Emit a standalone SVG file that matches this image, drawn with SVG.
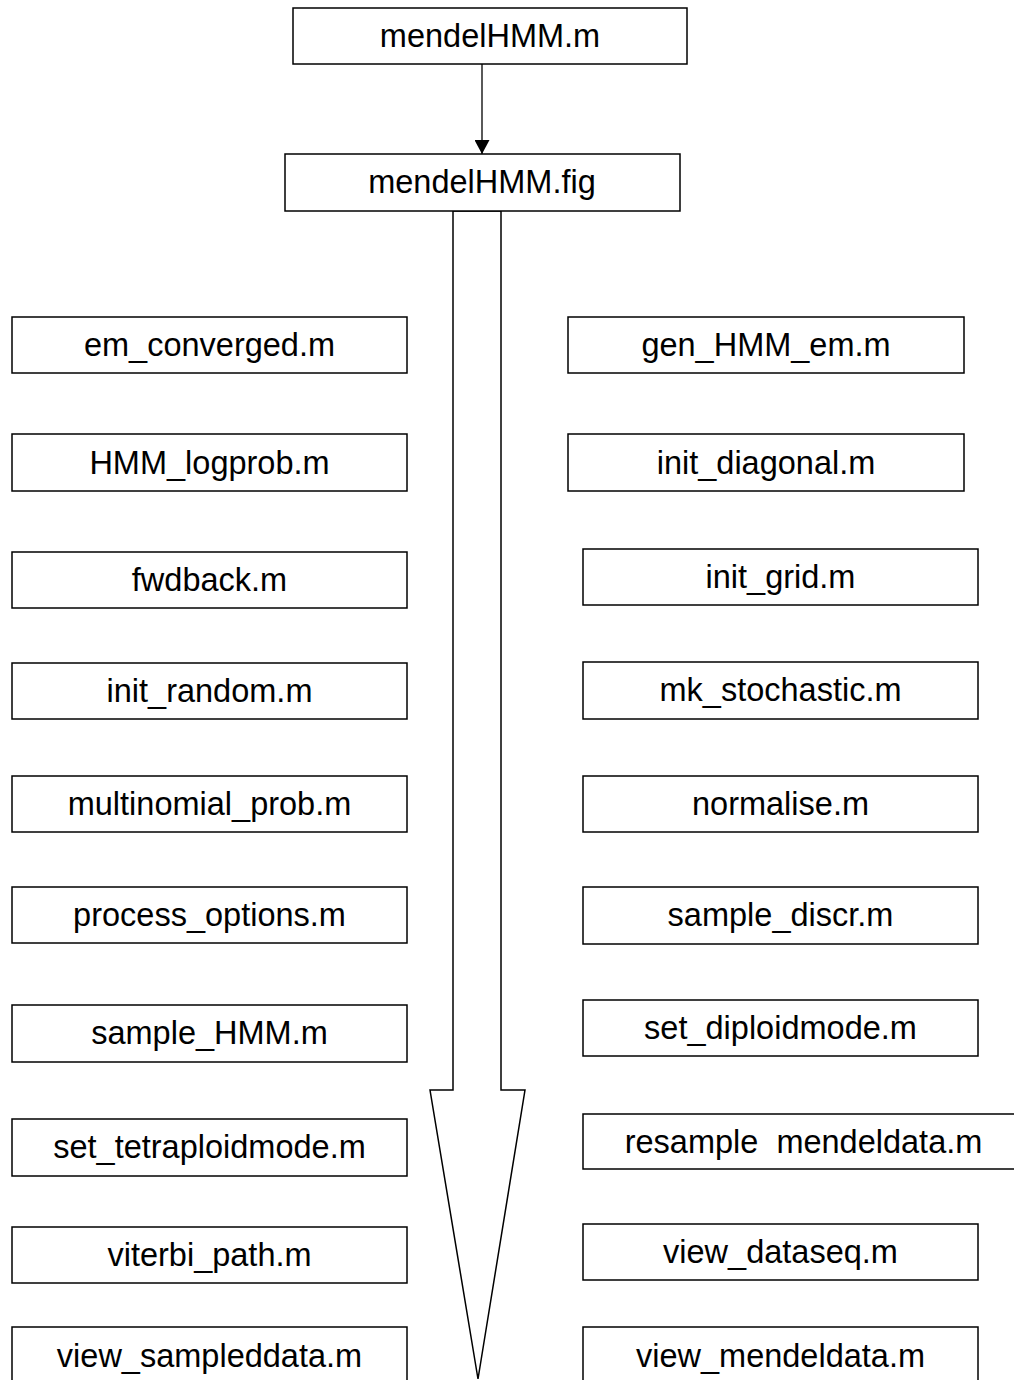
<svg xmlns="http://www.w3.org/2000/svg" width="1014" height="1380" viewBox="0 0 1014 1380">
<style>
rect.n{fill:#fff;stroke:#000;stroke-width:1.5}
text{font-family:"Liberation Sans",Arial,sans-serif;font-size:32.5px;fill:#000;text-anchor:middle;white-space:pre}
.c{fill:none;stroke:#000;stroke-width:1.5}
</style>
<defs>
<marker id="ah" viewBox="0 0 14 15" refX="14" refY="7.5" markerWidth="14" markerHeight="15" markerUnits="userSpaceOnUse" orient="auto">
<path d="M0,0 L14,7.5 L0,15 z" fill="#000"/>
</marker>
</defs>
<rect width="1014" height="1380" fill="#fff"/>
<g id="connectors">
<line class="c" x1="482" y1="64" x2="482" y2="154" marker-end="url(#ah)" style="stroke-width:1.3"/>
<polygon class="c" points="453,211 453,1090 430,1090 478,1379 525,1090 501,1090 501,211" style="fill:#fff"/>
</g>
<g id="mendelHMM_m"><rect class="n" x="293" y="8" width="394" height="56"/><text x="490" y="47">mendelHMM.m</text></g>
<g id="mendelHMM_fig"><rect class="n" x="285" y="154" width="395" height="57"/><text x="482" y="193">mendelHMM.fig</text></g>

<g id="em_converged"><rect class="n" x="12" y="317" width="395" height="56"/><text x="209.5" y="356">em_converged.m</text></g>
<g id="HMM_logprob"><rect class="n" x="12" y="434" width="395" height="57"/><text x="209.5" y="474">HMM_logprob.m</text></g>
<g id="fwdback"><rect class="n" x="12" y="552" width="395" height="56"/><text x="209.5" y="591">fwdback.m</text></g>
<g id="init_random"><rect class="n" x="12" y="663" width="395" height="56"/><text x="209.5" y="702">init_random.m</text></g>
<g id="multinomial_prob"><rect class="n" x="12" y="776" width="395" height="56"/><text x="209.5" y="815">multinomial_prob.m</text></g>
<g id="process_options"><rect class="n" x="12" y="887" width="395" height="56"/><text x="209.5" y="926">process_options.m</text></g>
<g id="sample_HMM"><rect class="n" x="12" y="1005" width="395" height="57"/><text x="209.5" y="1044">sample_HMM.m</text></g>
<g id="set_tetraploidmode"><rect class="n" x="12" y="1119" width="395" height="57"/><text x="209.5" y="1158">set_tetraploidmode.m</text></g>
<g id="viterbi_path"><rect class="n" x="12" y="1227" width="395" height="56"/><text x="209.5" y="1266">viterbi_path.m</text></g>
<g id="view_sampleddata"><rect class="n" x="12" y="1327" width="395" height="70"/><text x="209.5" y="1367">view_sampleddata.m</text></g>

<g id="gen_HMM_em"><rect class="n" x="568" y="317" width="396" height="56"/><text x="766" y="356">gen_HMM_em.m</text></g>
<g id="init_diagonal"><rect class="n" x="568" y="434" width="396" height="57"/><text x="766" y="474">init_diagonal.m</text></g>
<g id="init_grid"><rect class="n" x="583" y="549" width="395" height="56"/><text x="780.5" y="588">init_grid.m</text></g>
<g id="mk_stochastic"><rect class="n" x="583" y="662" width="395" height="57"/><text x="780.5" y="701">mk_stochastic.m</text></g>
<g id="normalise"><rect class="n" x="583" y="776" width="395" height="56"/><text x="780.5" y="815">normalise.m</text></g>
<g id="sample_discr"><rect class="n" x="583" y="887" width="395" height="57"/><text x="780.5" y="926">sample_discr.m</text></g>
<g id="set_diploidmode"><rect class="n" x="583" y="1000" width="395" height="56"/><text x="780.5" y="1039">set_diploidmode.m</text></g>
<g id="resample_mendeldata"><rect class="n" x="583" y="1114" width="441" height="55"/><text x="803.5" y="1153">resample  mendeldata.m</text></g>
<g id="view_dataseq"><rect class="n" x="583" y="1224" width="395" height="56"/><text x="780.5" y="1263">view_dataseq.m</text></g>
<g id="view_mendeldata"><rect class="n" x="583" y="1327" width="395" height="70"/><text x="780.5" y="1367">view_mendeldata.m</text></g>
</svg>
